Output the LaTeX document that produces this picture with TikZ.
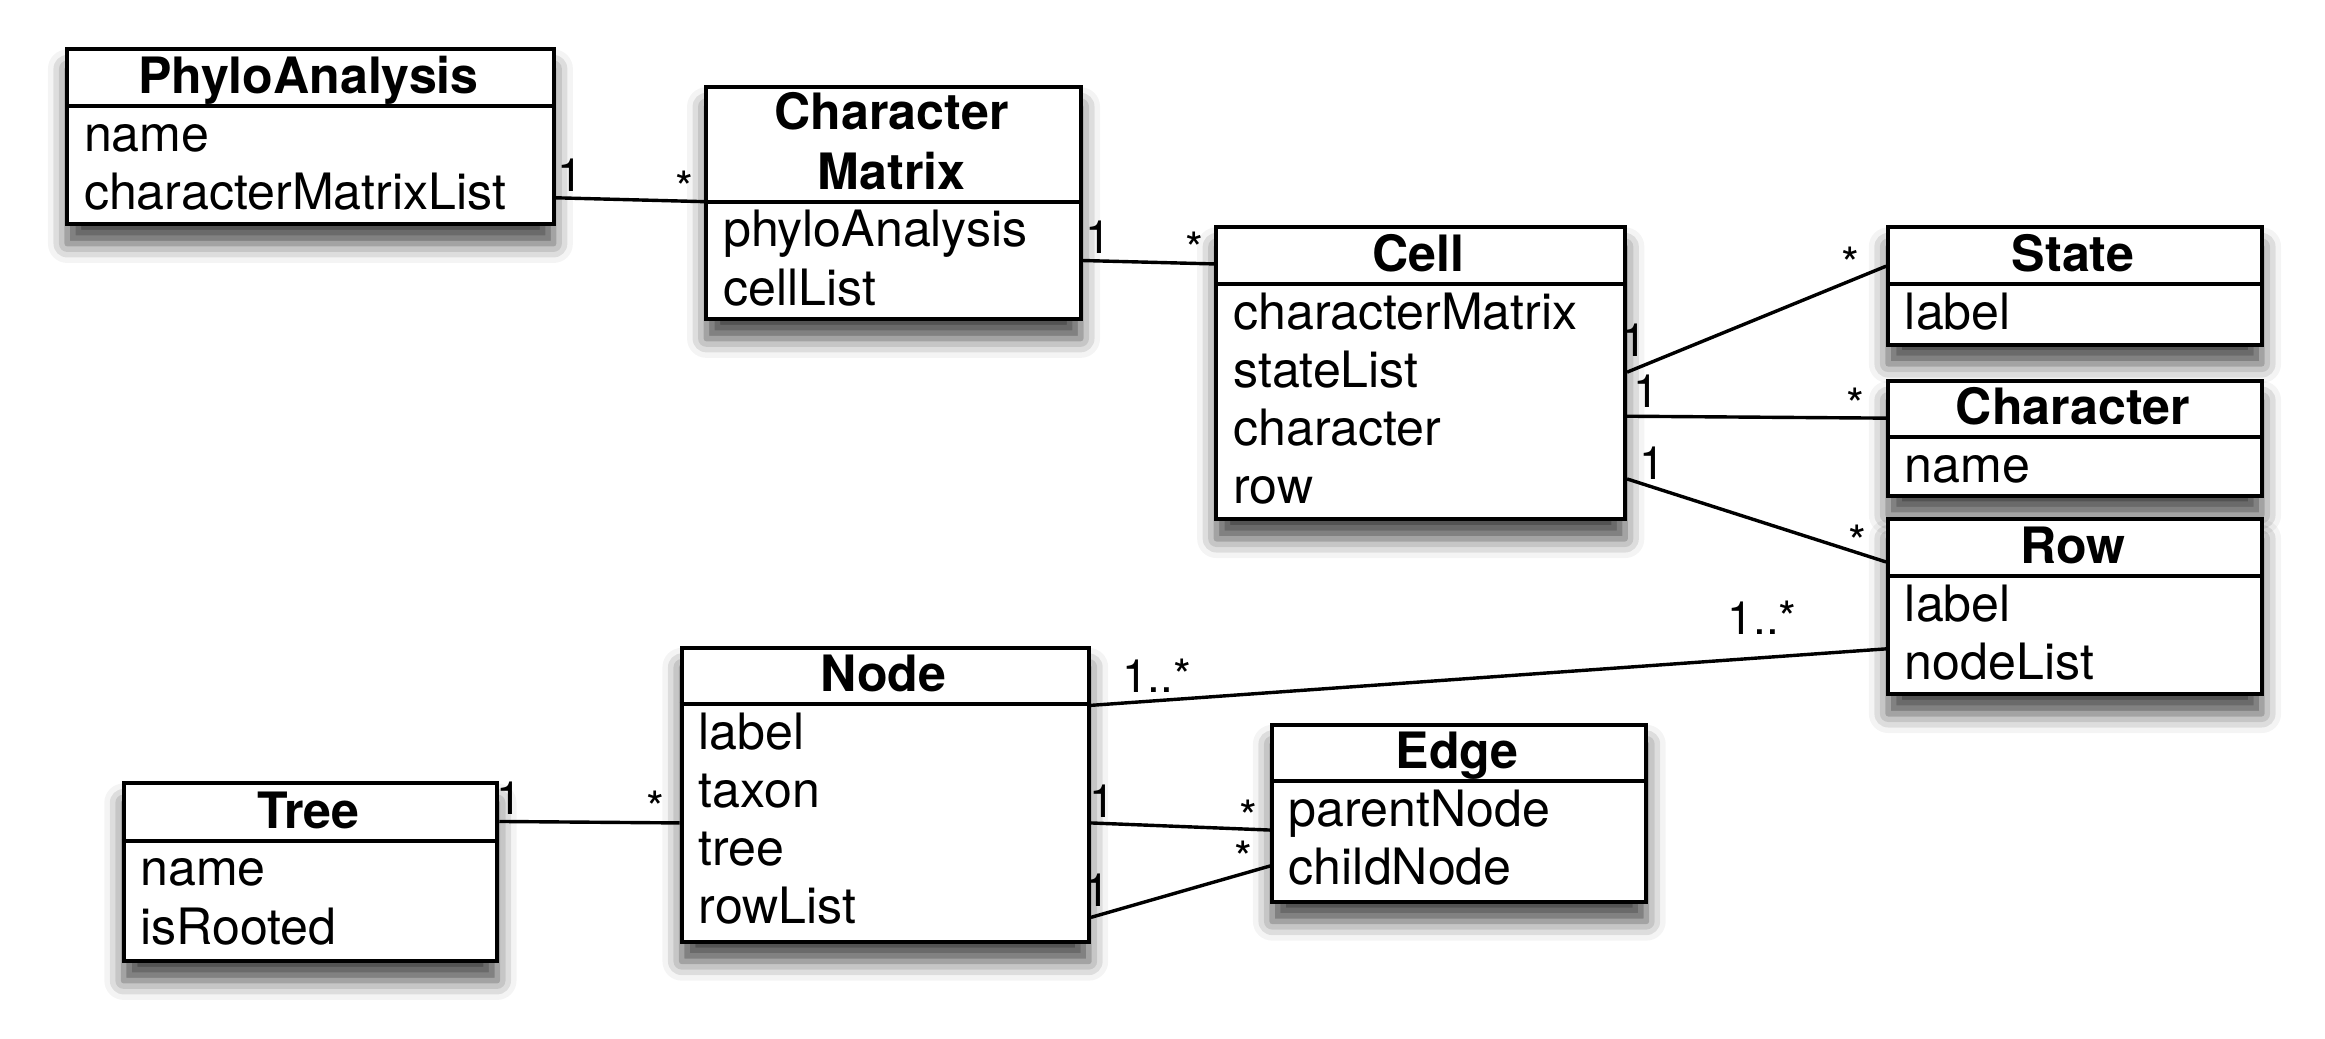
\documentclass[tikz,border=0pt]{standalone}
\usepackage{fontspec}
\setmainfont{TeX Gyre Heros}
\usetikzlibrary{shadows.blur}
\tikzset{
  umlbox/.style={draw=black, line width=2.7pt, fill=white, rectangle, inner sep=0pt, anchor=north west,
    blur shadow={shadow xshift=0pt, shadow yshift=-13pt, shadow blur radius=13pt, shadow opacity=72}},
  divline/.style={line width=2.7pt},
  ttl/.style={font=\bfseries\fontsize{33.8}{39}\selectfont, inner sep=0pt, anchor=base},
  attr/.style={font=\fontsize{33.8}{39}\selectfont, inner sep=0pt, anchor=base west},
  mult/.style={font=\fontsize{31}{37}\selectfont, inner sep=0pt, anchor=base west},
  assoc/.style={line width=2.3pt},
}
\begin{document}
\begin{tikzpicture}[x=1pt,y=-1pt]
\useasboundingbox (0,0) rectangle (1568,700.05);
% boxes
\node[umlbox, minimum width=328pt, minimum height=118pt] (pa) at (44,32) {};
\node[umlbox, minimum width=252.5pt, minimum height=156.5pt] (cm) at (475,57.5) {};
\node[umlbox, minimum width=275.6pt, minimum height=197pt] (cell) at (819,152) {};
\node[umlbox, minimum width=252pt, minimum height=79pt] (state) at (1272,152) {};
\node[umlbox, minimum width=252pt, minimum height=77.4pt] (char) at (1272,255.6) {};
\node[umlbox, minimum width=252pt, minimum height=118pt] (row) at (1272,349) {};
\node[umlbox, minimum width=274.6pt, minimum height=198.4pt] (node) at (458.4,435.6) {};
\node[umlbox, minimum width=252pt, minimum height=120pt] (tree) at (82,527) {};
\node[umlbox, minimum width=252.4pt, minimum height=119.5pt] (edge) at (856.6,487.5) {};
% dividers
\draw[divline] ([yshift=-39.5pt]pa.north west) -- ([yshift=-39.5pt]pa.north east);
\draw[divline] ([yshift=-78.5pt]cm.north west) -- ([yshift=-78.5pt]cm.north east);
\draw[divline] ([yshift=-39.6pt]cell.north west) -- ([yshift=-39.6pt]cell.north east);
\draw[divline] ([yshift=-39.6pt]state.north west) -- ([yshift=-39.6pt]state.north east);
\draw[divline] ([yshift=-39.1pt]char.north west) -- ([yshift=-39.1pt]char.north east);
\draw[divline] ([yshift=-39.5pt]row.north west) -- ([yshift=-39.5pt]row.north east);
\draw[divline] ([yshift=-39.4pt]node.north west) -- ([yshift=-39.4pt]node.north east);
\draw[divline] ([yshift=-40pt]tree.north west) -- ([yshift=-40pt]tree.north east);
\draw[divline] ([yshift=-39.5pt]edge.north west) -- ([yshift=-39.5pt]edge.north east);
% titles
\node[ttl] (pa-t) at (208,63) {PhyloAnalysis};
\node[ttl] (cm-t1) at (601.25,87.5) {Character};
\node[ttl] (cm-t2) at (601.25,127.5) {Matrix};
\node[ttl] (cell-t) at (956.8,183.1) {Cell};
\node[ttl] (state-t) at (1398,183.1) {State};
\node[ttl] (char-t) at (1398,286.2) {Character};
\node[ttl] (row-t) at (1398,380) {Row};
\node[ttl] (node-t) at (595.7,466.5) {Node};
\node[ttl] (tree-t) at (208,558.5) {Tree};
\node[ttl] (edge-t) at (982.8,518.5) {Edge};
% attributes
\node[attr] (pa-a1) at (56.5,102) {name};
\node[attr] (pa-a2) at (56.5,141.2) {characterMatrixList};
\node[attr] (cm-a1) at (487.5,166.5) {phyloAnalysis};
\node[attr] (cm-a2) at (487.5,205.7) {cellList};
\node[attr] (cell-a1) at (831.5,222.1) {characterMatrix};
\node[attr] (cell-a2) at (831.5,261.3) {stateList};
\node[attr] (cell-a3) at (831.5,300.5) {character};
\node[attr] (cell-a4) at (831.5,339.7) {row};
\node[attr] (state-a1) at (1284.5,222.1) {label};
\node[attr] (char-a1) at (1284.5,325.2) {name};
\node[attr] (row-a1) at (1284.5,419) {label};
\node[attr] (row-a2) at (1284.5,458.2) {nodeList};
\node[attr] (node-a1) at (471,505.5) {label};
\node[attr] (node-a2) at (471,544.7) {taxon};
\node[attr] (node-a3) at (471,583.9) {tree};
\node[attr] (node-a4) at (471,623.1) {rowList};
\node[attr] (tree-a1) at (94.5,597.5) {name};
\node[attr] (tree-a2) at (94.5,636.7) {isRooted};
\node[attr] (edge-a1) at (869,557.5) {parentNode};
\node[attr] (edge-a2) at (869,596.7) {childNode};
% associations
\draw[assoc] ([yshift=-101.4pt]pa.north east) -- ([yshift=-78.5pt]cm.north west);
\draw[assoc] ([yshift=-118.2pt]cm.north east) -- ([yshift=-26pt]cell.north west);
\draw[assoc] ([yshift=-99pt]cell.north east) -- ([yshift=-27.5pt]state.north west);
\draw[assoc] ([yshift=-128.7pt]cell.north east) -- ([yshift=-26.4pt]char.north west);
\draw[assoc] ([yshift=-171pt]cell.north east) -- ([yshift=-30pt]row.north west);
\draw[assoc] ([yshift=-40.1pt]node.north east) -- ([yshift=-88.6pt]row.north west);
\draw[assoc] ([yshift=-27pt]tree.north east) -- ([yshift=-119.4pt]node.north west);
\draw[assoc] ([yshift=-119.4pt]node.north east) -- ([yshift=-72.3pt]edge.north west);
\draw[assoc] ([yshift=-183.1pt]node.north east) -- ([yshift=-96.5pt]edge.north west);
% multiplicities
\node[mult] (m1) at (375.6,129.4) {1};
\node[mult] (m2) at (455.3,138) {*};
\node[mult] (m3) at (731.6,171.3) {1};
\node[mult] (m4) at (799.3,179) {*};
\node[mult] (m5) at (1093.6,240.7) {1};
\node[mult] (m6) at (1241.8,189.5) {*};
\node[mult] (m7) at (1101.2,275) {1};
\node[mult] (m8) at (1244.8,284.5) {*};
\node[mult] (m9) at (1105.2,323.7) {1};
\node[mult] (m10) at (1246.4,376.5) {*};
\node[mult] (m11) at (1165,428) {1..*};
\node[mult] (m12) at (756.6,467) {1..*};
\node[mult] (m13) at (334.6,549) {1};
\node[mult] (m14) at (435.8,556) {*};
\node[mult] (m15) at (734.6,551) {1};
\node[mult] (m16) at (835.8,562) {*};
\node[mult] (m17) at (731.2,611.4) {1};
\node[mult] (m18) at (832.3,590) {*};
\end{tikzpicture}
\end{document}
